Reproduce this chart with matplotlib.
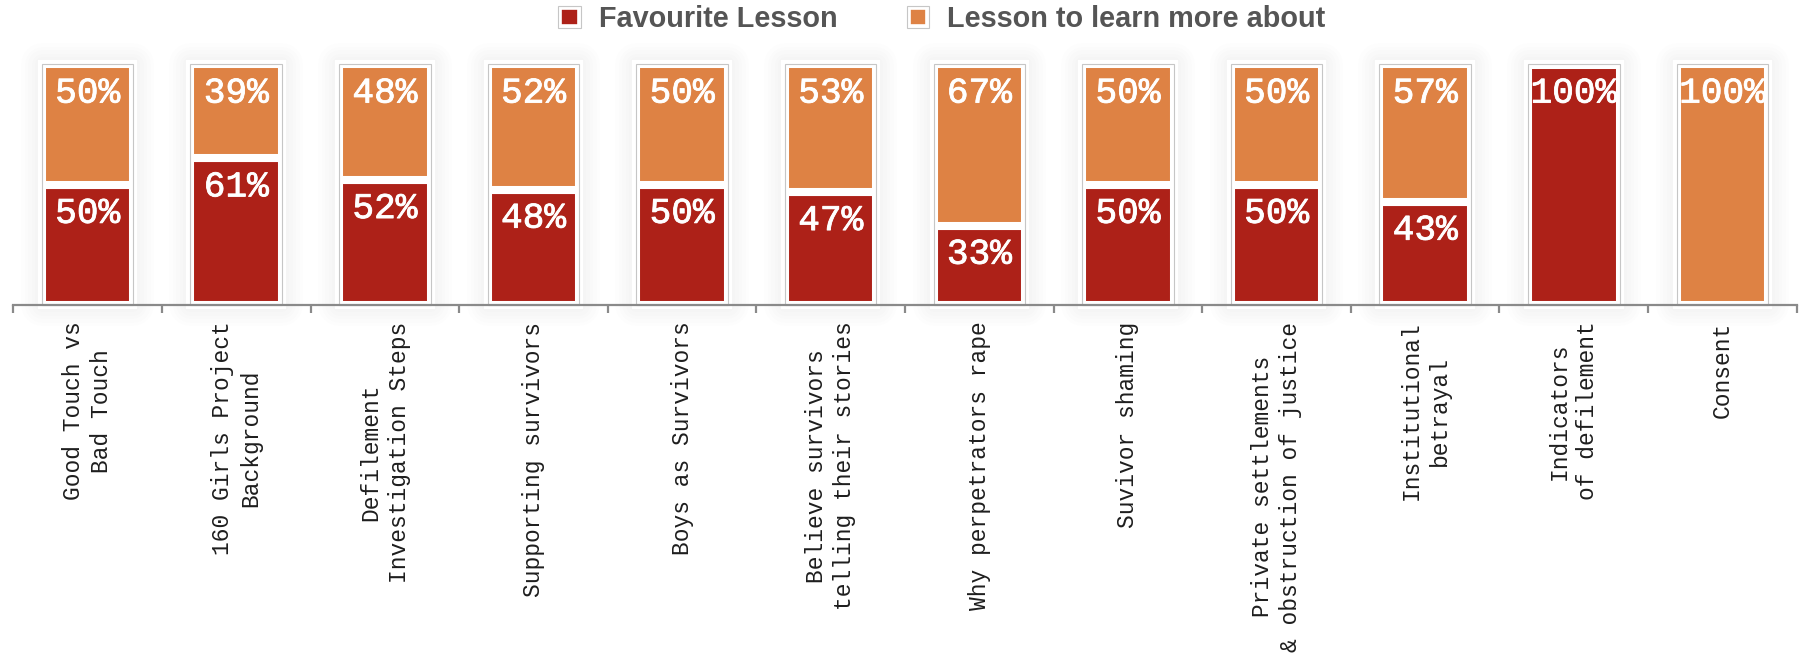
import numpy as np
import matplotlib
matplotlib.use("Agg")
import matplotlib.pyplot as plt
import matplotlib.patheffects as pe
from matplotlib.patches import Patch
from matplotlib.legend_handler import HandlerTuple

# Lesson feedback: share of responses per lesson (percent)
lessons = [
    "Good Touch vs\nBad Touch",
    "160 Girls Project\nBackground",
    "Defilement\nInvestigation Steps",
    "Supporting survivors",
    "Boys as Survivors",
    "Believe survivors\ntelling their stories",
    "Why perpetrators rape",
    "Suvivor shaming",
    "Private settlements\n& obstruction of justice",
    "Institutional\nbetrayal",
    "Indicators\nof defilement",
    "Consent",
]
favourite = [50, 61, 52, 48, 50, 47, 33, 50, 50, 43, 100, 0]
learn_more = [50, 39, 48, 52, 50, 53, 67, 50, 50, 57, 0, 100]
series_names = ["Favourite Lesson", "Lesson to learn more about"]

RED = "#ad2118"
ORANGE = "#de8244"
FRAME = "#c6c6c6"
AXIS = "#8a8a8a"
MONO = "Liberation Mono"

x = np.arange(len(lessons))
totals = [f + l for f, l in zip(favourite, learn_more)]
width = 0.616

fig = plt.figure(figsize=(18.05, 6.55), dpi=100)
ax = fig.add_axes([13.3 / 1805, 350 / 655, 1783.4 / 1805, 240.5 / 655])

# white card behind each bar, with a soft halo
shadow = [pe.Stroke(linewidth=lw, foreground="black", alpha=0.008,
                    joinstyle="round")
          for lw in (30, 25, 20, 15, 10, 6)]
shadow.append(pe.Normal())
cards = ax.bar(x, totals, width, color="white", edgecolor=FRAME,
               linewidth=0.8, zorder=1, clip_on=False)
for c in cards:
    c.set_path_effects(shadow)

# stacked segments; thick white edges give the inner padding and gaps
seg_kw = dict(width=width, edgecolor="white", linewidth=5.8, zorder=2,
              clip_on=False)
fav_bars = ax.bar(x, favourite, color=RED, **seg_kw)
more_bars = ax.bar(x, learn_more, bottom=favourite, color=ORANGE, **seg_kw)

# thin grey outline on top
ax.bar(x, totals, width, fill=False, edgecolor=FRAME, linewidth=0.8,
       zorder=3, clip_on=False)

# value labels at the top of each segment
for bars in (fav_bars, more_bars):
    for b in bars:
        h = b.get_height()
        if h <= 0:
            continue
        ax.annotate(f"{h:.0f}%", (b.get_x() + b.get_width() / 2, b.get_y() + h),
                    xytext=(0, -8), textcoords="offset points",
                    ha="center", va="top", color="white", fontsize=26,
                    family=MONO, zorder=4,
                    path_effects=[pe.withStroke(linewidth=0.6, foreground="white")])

ax.set_xlim(-0.5, len(lessons) - 0.5)
ax.set_ylim(0, 100)

ax.set_xticks(x)
ax.set_xticklabels(lessons, rotation=90, ha="center", va="top",
                   multialignment="center", linespacing=1.3,
                   fontsize=16.5, family=MONO, color="#1e1e1e")
ax.set_xticks(np.arange(-0.5, len(lessons)), minor=True)
ax.tick_params(axis="x", which="major", length=0, pad=12)
ax.tick_params(axis="x", which="minor", length=6, width=1.6, color=AXIS,
               direction="out")
ax.set_yticks([])

for side in ("top", "left", "right"):
    ax.spines[side].set_visible(False)
ax.spines["bottom"].set_color(AXIS)
ax.spines["bottom"].set_linewidth(1.6)
ax.spines["bottom"].set_zorder(5)

# legend: coloured square inside a grey-bordered box
handles = [
    (Patch(facecolor=col, edgecolor="white", linewidth=5.5),
     Patch(fill=False, edgecolor=FRAME, linewidth=0.8))
    for col in (RED, ORANGE)
]
fig.legend(handles, series_names, handler_map={tuple: HandlerTuple(ndivide=1, pad=0)},
           loc="center", bbox_to_anchor=(942 / 1805, 1 - 19 / 655), ncol=2,
           frameon=False, handlelength=0.78, handleheight=0.78,
           handletextpad=0.62, columnspacing=2.4,
           prop={"family": "Liberation Sans", "weight": "bold", "size": 20.8},
           labelcolor="#555555")

fig.savefig("out.png", dpi=100)
